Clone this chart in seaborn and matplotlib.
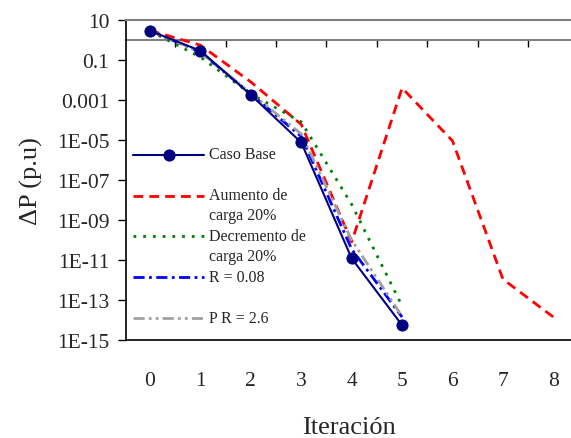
import numpy as np
import pandas as pd
import matplotlib
matplotlib.use("Agg")
import matplotlib.pyplot as plt
import seaborn as sns
from matplotlib.legend_handler import HandlerLine2D

# values
iteracion = [0, 1, 2, 3, 4, 5, 6, 7, 8]
caso_base = [2.9, 0.29, 1.8e-3, 7.5e-6, 1.2e-11, 5.5e-15]
aumento = [3.0, 0.55, 8e-3, 6e-5, 8e-11, 4e-3, 9e-6, 1.1e-12, 1.4e-14]
decremento = [2.8, 0.14, 2e-3, 8e-5, 6e-9, 5e-14]
r_008 = [2.9, 0.25, 2e-3, 1.5e-5, 3.5e-11, 1.4e-14]
pr_26 = [2.9, 0.25, 2.2e-3, 2e-5, 1e-10, 1.5e-14]

ytick_vals = [10, 0.1, 1e-3, 1e-5, 1e-7, 1e-9, 1e-11, 1e-13, 1e-15]
ytick_labels = ["10", "0.1", "0.001", "1E-05", "1E-07", "1E-09", "1E-11", "1E-13", "1E-15"]

sns.set_theme(style="white")
plt.rcParams['font.family'] = ['Liberation Serif', 'DejaVu Serif']


class TopLine(HandlerLine2D):
    # put the legend sample next to the first line of the label
    def create_artists(self, legend, orig_handle, xdescent, ydescent, width, height, fontsize, trans):
        arts = super().create_artists(legend, orig_handle, xdescent, ydescent, width, height, fontsize, trans)
        for a in arts:
            a.set_ydata(np.asarray(a.get_ydata()) + 0.62 * fontsize)
        return arts


fig = plt.figure(figsize=(5.71, 4.39), dpi=100)
ax = fig.add_axes([126 / 571, 98 / 439, 445 / 571, 320 / 439])

series = [
    ("Aumento de\ncarga 20%", aumento, "#FF0000", (0, (3.5, 2.2))),
    ("Decremento de\ncarga 20%", decremento, "#008000", (0, (1, 2.5))),
    ("R = 0.08\n ", r_008, "#0000FF", (0, (4, 1.6, 1, 1.6))),
    ("P R = 2.6\n ", pr_26, "#A0A0A0", (0, (4, 1.5, 1, 1.5, 1, 1.5))),
]

sns.lineplot(x=iteracion[:len(caso_base)], y=caso_base, ax=ax, color="#000080",
             linewidth=1.5, marker="o", markersize=8, markeredgecolor="#000080",
             label="Caso Base\n ", zorder=5)
for lab, vals, col, ls in series:
    sns.lineplot(x=iteracion[:len(vals)], y=vals, ax=ax, color=col, linewidth=2,
                 linestyle=ls, label=lab, zorder=3)

ax.set_yscale("log")
ax.set_ylim(1e-15, 10)
ax.set_xlim(-0.476, 8.35)
ax.set_yticks(ytick_vals)
ax.set_yticklabels(ytick_labels)
ax.yaxis.set_minor_locator(matplotlib.ticker.NullLocator())
ax.set_xticks(iteracion)
ax.set_xticklabels([str(i) for i in iteracion])
ax.tick_params(axis="y", which="major", direction="out", length=6, width=1,
               color="black", left=True, labelsize=15.5, pad=6)
ax.tick_params(axis="x", length=0, labelsize=15.5, pad=22, bottom=True)

for s in ["left", "bottom"]:
    ax.spines[s].set_color("black")
    ax.spines[s].set_linewidth(1.2)
ax.spines["top"].set_color("#808080")
ax.spines["top"].set_linewidth(1.5)
ax.spines["right"].set_visible(False)

# category axis crossing at 1, tick marks between categories
pos = (0 + 15) / 16
sec = ax.secondary_xaxis(pos)
sec.set_xticks([i + 0.5 for i in iteracion[:-1]])
sec.set_xticklabels([])
sec.tick_params(direction="in", length=5, width=1, color="black")
for s in sec.spines.values():
    s.set_color("#808080")
    s.set_linewidth(1.5)

ax.set_xlabel("Iteración", fontsize=19, labelpad=19)
ax.set_ylabel("ΔP (p.u)", fontsize=19, labelpad=10)

h, l = ax.get_legend_handles_labels()
leg = ax.legend(h, l, loc="upper left", bbox_to_anchor=(-0.012, 0.645), frameon=False,
                fontsize=11.5, handlelength=4.4, handletextpad=0.3, labelspacing=0.33,
                borderaxespad=0.4, handler_map={matplotlib.lines.Line2D: TopLine()})
for t in leg.get_texts():
    t.set_linespacing(1.3)

fig.savefig("out.png", dpi=100)
